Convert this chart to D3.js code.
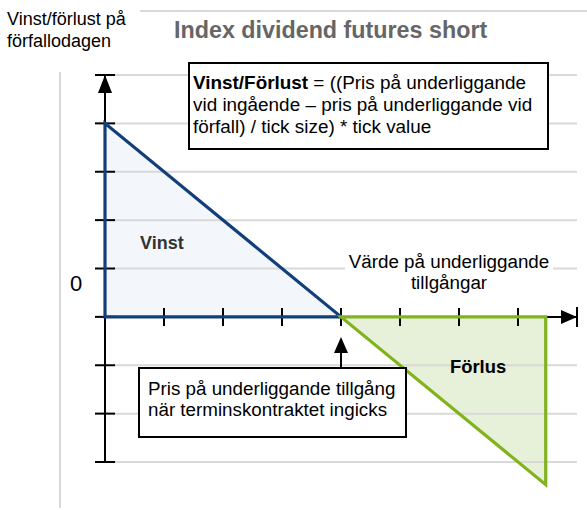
<!DOCTYPE html>
<html><head><meta charset="utf-8">
<script src="https://cdn.jsdelivr.net/npm/d3@7"></script>
<style>body{margin:0;background:#fff}svg{display:block;font-family:"Liberation Sans",Arial,sans-serif}</style>
</head><body><svg id="c" width="587" height="510"></svg>
<script>
// data
const xTicks = [0, 1, 2, 3, 4, 5, 6, 7];
const yTicks = [-3, -2, -1, 0, 1, 2, 3, 4, 5];
const entryPrice = 4;
const gainTriangle = [[0, 0], [0, 4], [4, 0]];
const lossTriangle = [[4, 0], [7.47, 0], [7.47, -3.47]];
const title = "Index dividend futures short";
const yLabel = ["Vinst/förlust på", "förfallodagen"];
const xLabel = ["Värde på underliggande", "tillgångar"];
const formulaLines = [["Vinst/Förlust", " = ((Pris på underliggande"], ["", "vid ingående – pris på underliggande vid"], ["", "förfall) / tick size) * tick value"]];
const entryLines = ["Pris på underliggande tillgång", "när terminskontraktet ingicks"];

const svg = d3.select("#c");
const x = d3.scaleLinear().domain([0, 8]).range([105, 577]);
const y = d3.scaleLinear().domain([-3, 5]).range([462, 75]);
const line = d3.line().x(d => x(d[0])).y(d => y(d[1]));
const grey = "#d9d9d9";

// frame lines
svg.append("line").attr("x1", 140).attr("x2", 587).attr("y1", 11).attr("y2", 11).attr("stroke", grey).attr("stroke-width", 2);
svg.append("line").attr("x1", 60).attr("x2", 60).attr("y1", 72).attr("y2", 508).attr("stroke", grey).attr("stroke-width", 2);

// fills
svg.append("path").attr("d", line(gainTriangle) + "Z").attr("fill", "#f3f6fa");
svg.append("path").attr("d", line(lossTriangle) + "Z").attr("fill", "#e7f0d8");

// gridlines
svg.append("g").selectAll("line").data(yTicks).join("line")
  .attr("x1", x(0) + 8).attr("x2", x(8)).attr("y1", d => y(d)).attr("y2", d => y(d))
  .attr("stroke", grey).attr("stroke-width", 2);

// white backgrounds for labels
svg.append("rect").attr("x", 62).attr("y", 261).attr("width", 30).attr("height", 42).attr("fill", "#fff");
svg.append("rect").attr("x", 345).attr("y", 250).attr("width", 208).attr("height", 42).attr("fill", "#fff");

// y axis
svg.append("line").attr("x1", x(0)).attr("x2", x(0)).attr("y1", y(5)).attr("y2", y(-3)).attr("stroke", "#000").attr("stroke-width", 2);
svg.append("g").selectAll("line").data(yTicks).join("line")
  .attr("x1", x(0) - 10).attr("x2", x(0) + 10).attr("y1", d => y(d)).attr("y2", d => y(d))
  .attr("stroke", "#000").attr("stroke-width", 2);
svg.append("path").attr("d", `M${x(0)},${y(5)}L${x(0) - 7},${y(5) + 18}L${x(0) + 7},${y(5) + 18}Z`).attr("fill", "#000");

// x axis
svg.append("line").attr("x1", x(0)).attr("x2", x(8)).attr("y1", y(0)).attr("y2", y(0)).attr("stroke", "#000").attr("stroke-width", 2);
svg.append("g").selectAll("line").data(xTicks).join("line")
  .attr("x1", d => x(d)).attr("x2", d => x(d)).attr("y1", y(0) - 9).attr("y2", y(0) + 9)
  .attr("stroke", "#000").attr("stroke-width", 2);
svg.append("line").attr("x1", x(8)).attr("x2", x(8)).attr("y1", y(0) - 10).attr("y2", y(0) + 10).attr("stroke", "#000").attr("stroke-width", 2);
svg.append("path").attr("d", `M${x(8)},${y(0)}L${x(8) - 16},${y(0) - 7}L${x(8) - 16},${y(0) + 7}Z`).attr("fill", "#000");

// triangle strokes
svg.append("path").attr("d", line(gainTriangle) + "Z").attr("fill", "none").attr("stroke", "#123f7a").attr("stroke-width", 3.2).attr("stroke-linejoin", "miter");
svg.append("path").attr("d", line(lossTriangle) + "Z").attr("fill", "none").attr("stroke", "#80b31c").attr("stroke-width", 3.2).attr("stroke-linejoin", "miter");

// texts
svg.append("text").attr("x", 174).attr("y", 38).attr("font-size", 23.3).attr("font-weight", "bold").attr("fill", "#666").text(title);
svg.append("g").selectAll("text").data(yLabel).join("text")
  .attr("x", 7).attr("y", (d, i) => 25 + i * 22).attr("font-size", 18).attr("fill", "#000").text(d => d);
svg.append("text").attr("x", 70).attr("y", 291).attr("font-size", 22).attr("fill", "#000").text("0");
svg.append("g").selectAll("text").data(xLabel).join("text")
  .attr("x", 449).attr("y", (d, i) => 268 + i * 21).attr("text-anchor", "middle").attr("font-size", 18.8).attr("fill", "#000").text(d => d);
svg.append("text").attr("x", 140).attr("y", 249).attr("font-size", 18).attr("font-weight", "bold").attr("fill", "#333").text("Vinst");
svg.append("text").attr("x", 450).attr("y", 373).attr("font-size", 18.4).attr("font-weight", "bold").attr("fill", "#000").text("Förlus");

// formula box
svg.append("rect").attr("x", 189).attr("y", 63).attr("width", 359).attr("height", 86).attr("fill", "#fff").attr("stroke", "#000").attr("stroke-width", 2);
const ft = svg.append("g").selectAll("text").data(formulaLines).join("text")
  .attr("x", 193).attr("y", (d, i) => 89 + i * 22).attr("font-size", 18.9).attr("fill", "#000");
ft.append("tspan").attr("font-weight", "bold").text(d => d[0]);
ft.append("tspan").text(d => d[1]);

// entry arrow + box
svg.append("line").attr("x1", x(entryPrice)).attr("x2", x(entryPrice)).attr("y1", 352).attr("y2", 368).attr("stroke", "#000").attr("stroke-width", 2);
svg.append("path").attr("d", `M${x(entryPrice)},${337}L${x(entryPrice) - 7},${353}L${x(entryPrice) + 7},${353}Z`).attr("fill", "#000");
svg.append("rect").attr("x", 139).attr("y", 368).attr("width", 267).attr("height", 69).attr("fill", "#fff").attr("stroke", "#000").attr("stroke-width", 2);
svg.append("g").selectAll("text").data(entryLines).join("text")
  .attr("x", 148).attr("y", (d, i) => 395 + i * 21).attr("font-size", 18.8).attr("fill", "#000").text(d => d);
</script></body></html>
